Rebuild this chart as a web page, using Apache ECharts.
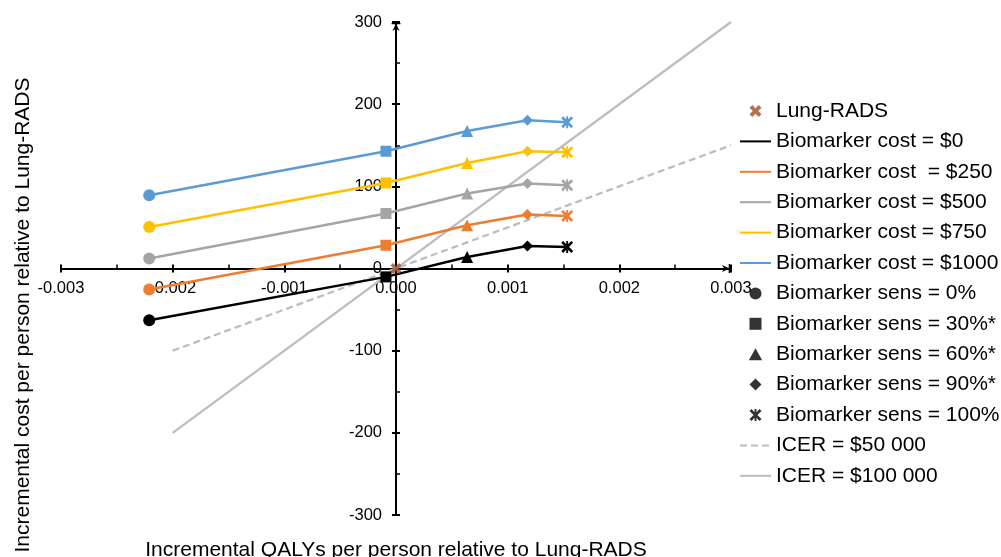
<!DOCTYPE html>
<html><head><meta charset="utf-8">
<script src="https://cdn.jsdelivr.net/npm/echarts@6/dist/echarts.min.js"></script>
<style>html,body{margin:0;padding:0;background:#fff}#c{width:1001px;height:557px}</style>
</head><body><div id="c"></div><script>
// ---- data ----
const sensNames = ['Biomarker sens = 0%', 'Biomarker sens = 30%*', 'Biomarker sens = 60%*', 'Biomarker sens = 90%*', 'Biomarker sens = 100%'];
const sensQALY = [-0.00221, -0.00009, 0.000637, 0.001177, 0.001533];
const costNames = ['Biomarker cost = $0', 'Biomarker cost  = $250', 'Biomarker cost = $500', 'Biomarker cost = $750', 'Biomarker cost = $1000'];
const cost0 = [-62.9, -10.2, 14.1, 27.5, 26.3];
const cost250 = [-25.5, 28.3, 52.7, 65.7, 64.0];
const cost500 = [12.2, 66.9, 91.2, 103.4, 101.3];
const cost750 = [50.6, 104.1, 128.5, 142.7, 141.5];
const cost1000 = [89.2, 142.7, 167.4, 180.4, 178.0];
const lungRadsPoint = [0, 0];
const icerX = [-0.002, 0.003];
const icer50kY = [-100, 150];
const icer100kY = [-200, 300];
const icerNames = ['ICER = $50 000', 'ICER = $100 000'];
const xTitle = 'Incremental QALYs per person relative to Lung-RADS';
const yTitle = 'Incremental cost per person relative to Lung-RADS';
const xRange = [-0.003, 0.003, 0.001];
const yRange = [-300, 300, 100];

// ---- layout / style ----
const FONT = '"Liberation Sans", Arial, sans-serif';
const GRID = {left: 61, right: 270, top: 22, bottom: 42};
const CW = 1001, CH = 557;
const gridW = CW - GRID.left - GRID.right, gridH = CH - GRID.top - GRID.bottom;
// axes cross at zero (both ranges symmetric), shift the axes from grid edges to the middle
const xAxisOffset = -gridH / 2;
const yAxisOffset = -gridW / 2;
const costColors = ['#000000', '#ED7D31', '#A5A5A5', '#FFC000', '#5B9BD5'];
const BROWN = '#A24F27';
const ICER_COLOR = '#BDBDBD';
const STAR = 'path://M0,1.6L1.6,0L10,8.4L8.4,10Z M8.4,0L10,1.6L1.6,10L0,8.4Z M4.2,0L5.8,0L5.8,10L4.2,10Z';
const XMARK = 'path://M0,2.3L2.3,0L10,7.7L7.7,10Z M7.7,0L10,2.3L2.3,10L0,7.7Z';
const RECT = 'path://M0,0L10,0L10,10L0,10Z';
const TRI = 'path://M5,0L10,9L0,9Z';
const DIAM = 'path://M5,0L10,5L5,10L0,5Z';
const ARROW = 'path://M0,0L10,0L10,1.5L0,1.5Z M5,0.5L9,9L5,6.5L1,9Z';
const symbols = ['circle', RECT, TRI, DIAM, STAR];
const symSizes = [12, 11, 12, 11, 12];
const legSizes = [11, 10, 11, 11, 11];

const costVals = [cost0, cost250, cost500, cost750, cost1000];

const series = [];
series.push({
  type: 'scatter', name: 'Lung-RADS', data: [lungRadsPoint], symbol: XMARK, symbolSize: 11,
  itemStyle: {color: BROWN}, z: 6
});
costNames.forEach((n, k) => {
  series.push({
    type: 'line', name: n, z: 3,
    data: costVals[k].map((v, i) => ({value: [sensQALY[i], v], symbol: symbols[i], symbolSize: symSizes[i]})),
    symbol: 'circle',
    lineStyle: {color: costColors[k], width: 2.5},
    itemStyle: {color: costColors[k]}
  });
});
sensNames.forEach((n, i) => {
  series.push({type: 'scatter', name: n, data: [], symbol: symbols[i], symbolSize: legSizes[i], itemStyle: {color: '#000'}});
});
series.push({
  type: 'line', name: icerNames[0], data: icerX.map((x, i) => [x, icer50kY[i]]), symbol: 'none', z: 2,
  lineStyle: {color: ICER_COLOR, width: 2.25, type: [7, 4]}, itemStyle: {color: ICER_COLOR}
});
series.push({
  type: 'line', name: icerNames[1], data: icerX.map((x, i) => [x, icer100kY[i]]), symbol: 'none', z: 2,
  lineStyle: {color: ICER_COLOR, width: 2.25}, itemStyle: {color: ICER_COLOR}
});

const legendData = [{name: 'Lung-RADS'}]
  .concat(costNames.map(n => ({name: n, itemStyle: {opacity: 0}})))
  .concat(sensNames.map(n => ({name: n})))
  .concat(icerNames.map(n => ({name: n, itemStyle: {opacity: 0}})));

function xFmt(v) { return Math.abs(v) < 1e-9 ? '0.000' : v.toFixed(3); }

const axisLineStyle = {color: '#000', width: 2};
const option = {
  animation: false,
  grid: Object.assign({containLabel: false, outerBoundsMode: 'none'}, GRID),
  xAxis: [{
    type: 'value', min: xRange[0], max: xRange[1], interval: xRange[2], position: 'bottom', offset: xAxisOffset,
    axisLine: {show: true, onZero: false, lineStyle: axisLineStyle, symbol: ['none', ARROW], symbolSize: [9, 10], symbolOffset: [0, -5]},
    axisTick: {show: true, inside: true, length: 4, lineStyle: {color: '#000', width: 2}},
    minorTick: {show: true, splitNumber: 2, length: 4, lineStyle: {color: '#000', width: 1.5}},
    axisLabel: {formatter: xFmt, fontSize: 16.5, fontFamily: FONT, color: '#000', margin: 11},
    splitLine: {show: false},
    name: xTitle, nameLocation: 'middle', nameGap: 271,
    nameTextStyle: {fontSize: 21, fontFamily: FONT, color: '#000'}
  }, {
    type: 'value', min: xRange[0], max: xRange[1], interval: xRange[2], position: 'bottom', offset: xAxisOffset,
    axisLine: {show: true, onZero: false, lineStyle: axisLineStyle},
    axisTick: {show: true, inside: false, length: 4, lineStyle: {color: '#000', width: 2}},
    axisLabel: {show: false}, splitLine: {show: false}
  }],
  yAxis: [{
    type: 'value', min: yRange[0], max: yRange[1], interval: yRange[2], position: 'left', offset: yAxisOffset,
    axisLine: {show: true, onZero: false, lineStyle: axisLineStyle, symbol: ['none', ARROW], symbolSize: [9, 10], symbolOffset: [0, -5]},
    axisTick: {show: true, inside: true, length: 4, lineStyle: {color: '#000', width: 2}},
    minorTick: {show: true, splitNumber: 2, length: 4, lineStyle: {color: '#000', width: 1.5}},
    axisLabel: {fontSize: 16.5, fontFamily: FONT, color: '#000', margin: 14},
    splitLine: {show: false}
  }, {
    type: 'value', min: yRange[0], max: yRange[1], interval: yRange[2], position: 'left', offset: yAxisOffset,
    axisLine: {show: true, onZero: false, lineStyle: axisLineStyle},
    axisTick: {show: true, inside: false, length: 4, lineStyle: {color: '#000', width: 2}},
    axisLabel: {show: false}, splitLine: {show: false}
  }],
  legend: {
    orient: 'vertical', left: 739, top: 99, padding: 0, itemWidth: 31, itemHeight: 12, itemGap: 6.4,
    selectedMode: false,
    textStyle: {fontSize: 21, fontFamily: FONT, color: '#000', lineHeight: 24},
    data: legendData
  },
  graphic: [{
    type: 'text', x: 23, y: 315, rotation: Math.PI / 2,
    style: {text: yTitle, fontSize: 21, fontFamily: FONT, fill: '#000', align: 'center', verticalAlign: 'middle'}
  }],
  series: series
};
const chart = echarts.init(document.getElementById('c'), null, {renderer: 'canvas'});
chart.setOption(option);
</script></body></html>
